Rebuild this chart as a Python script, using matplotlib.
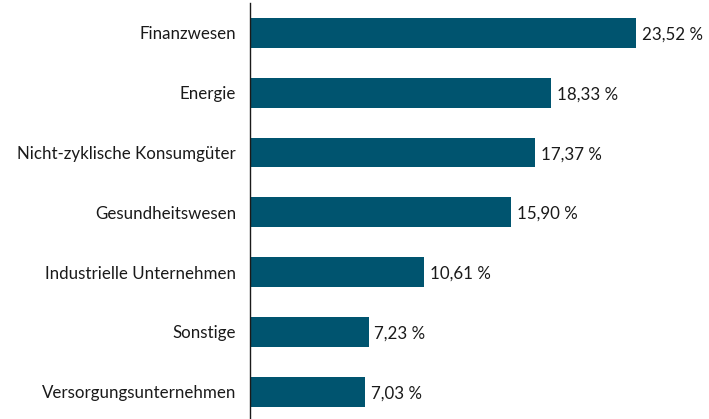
import matplotlib
matplotlib.use("Agg")
from matplotlib import pyplot as plt

kategorien = ["Finanzwesen", "Energie", "Nicht-zyklische Konsumgüter", "Gesundheitswesen",
              "Industrielle Unternehmen", "Sonstige", "Versorgungsunternehmen"]
anteile = [23.52, 18.33, 17.37, 15.90, 10.61, 7.23, 7.03]
etiketten = ["23,52 %", "18,33 %", "17,37 %", "15,90 %", "10,61 %", "7,23 %", "7,03 %"]

plt.rcParams['font.family'] = ['Lato', 'DejaVu Sans']

fig = plt.figure(figsize=(7.09, 4.19), dpi=100)
ax = fig.add_axes([250 / 709, 0, 459 / 709, 416 / 419])

pos = list(range(len(kategorien)))
ax.barh(pos, anteile, height=0.5, color="#00546f")
for p, v, t in zip(pos, anteile, etiketten):
    ax.text(v + 0.35, p + 0.03, t, va="center", ha="left", fontsize=12.2, color="#1a1a1a")

ax.set_yticks(pos)
ax.set_yticklabels(kategorien, fontsize=12.2, color="#1a1a1a")
ax.tick_params(axis="y", length=0, pad=10)
ax.set_xticks([])
ax.set_xlim(0, 459 / 16.41)
ax.set_ylim(6.457, -0.5)

for s in ["top", "right", "bottom"]:
    ax.spines[s].set_visible(False)
ax.spines["left"].set_color("#1a1a1a")
ax.spines["left"].set_linewidth(1)

fig.savefig("out.png", dpi=100)
